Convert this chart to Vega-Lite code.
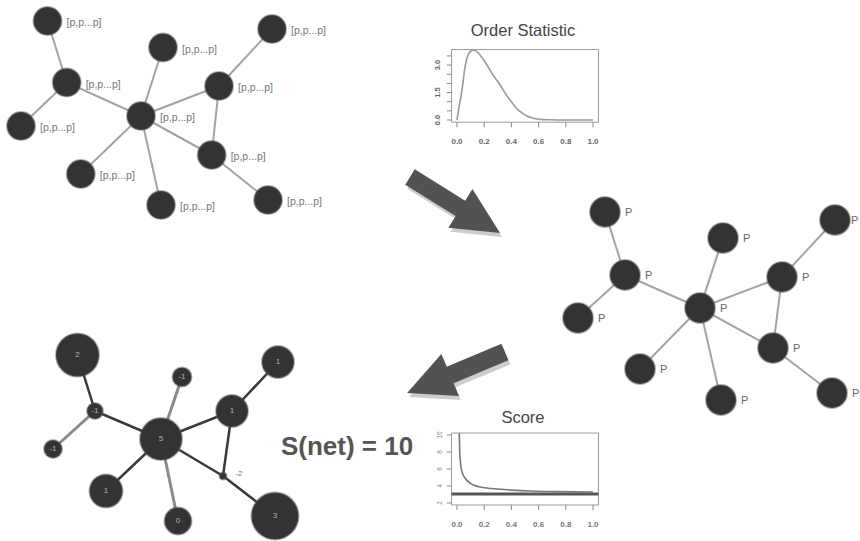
{
  "$schema": "https://vega.github.io/schema/vega-lite/v6.json",
  "width": 860,
  "height": 541,
  "padding": 0,
  "autosize": {"type": "none"},
  "background": "white",
  "config": {"view": {"stroke": null}, "font": "Liberation Sans"},
  "datasets": {
    "nodes": [
      {"id": "tA", "net": "t", "x": 47.5, "y": 21, "label": "[p,p...p]", "w": 31.4},
      {"id": "tB", "net": "t", "x": 66.7, "y": 82.5, "label": "[p,p...p]", "w": 31.4},
      {"id": "tC", "net": "t", "x": 21, "y": 126, "label": "[p,p...p]", "w": 31.4},
      {"id": "tD", "net": "t", "x": 141, "y": 116, "label": "[p,p...p]", "w": 31.4},
      {"id": "tE", "net": "t", "x": 163, "y": 47.5, "label": "[p,p...p]", "w": 31.4},
      {"id": "tF", "net": "t", "x": 219, "y": 86, "label": "[p,p...p]", "w": 31.4},
      {"id": "tG", "net": "t", "x": 272, "y": 29, "label": "[p,p...p]", "w": 31.4},
      {"id": "tH", "net": "t", "x": 211.7, "y": 155, "label": "[p,p...p]", "w": 31.4},
      {"id": "tI", "net": "t", "x": 80.8, "y": 174, "label": "[p,p...p]", "w": 31.4},
      {"id": "tJ", "net": "t", "x": 161, "y": 205, "label": "[p,p...p]", "w": 31.4},
      {"id": "tK", "net": "t", "x": 268, "y": 200, "label": "[p,p...p]", "w": 31.4},
      {"id": "mA", "net": "m", "x": 605, "y": 212, "label": "P", "w": 36},
      {"id": "mB", "net": "m", "x": 625, "y": 275, "label": "P", "w": 36},
      {"id": "mC", "net": "m", "x": 578, "y": 318, "label": "P", "w": 36},
      {"id": "mD", "net": "m", "x": 700, "y": 308, "label": "P", "w": 36},
      {"id": "mE", "net": "m", "x": 723, "y": 238, "label": "P", "w": 36},
      {"id": "mF", "net": "m", "x": 782, "y": 277, "label": "P", "w": 36},
      {"id": "mG", "net": "m", "x": 835, "y": 220, "label": "P", "w": 36},
      {"id": "mH", "net": "m", "x": 773, "y": 348, "label": "P", "w": 36},
      {"id": "mI", "net": "m", "x": 640, "y": 369, "label": "P", "w": 36},
      {"id": "mJ", "net": "m", "x": 721, "y": 400, "label": "P", "w": 36},
      {"id": "mK", "net": "m", "x": 832, "y": 393, "label": "P", "w": 36},
      {"id": "bA", "net": "b", "x": 77.5, "y": 355, "label": "2", "w": 74},
      {"id": "bB", "net": "b", "x": 95, "y": 411, "label": "-1", "w": 10.2},
      {"id": "bC", "net": "b", "x": 53, "y": 449, "label": "-1", "w": 13},
      {"id": "bD", "net": "b", "x": 161, "y": 439, "label": "5", "w": 70.6},
      {"id": "bE", "net": "b", "x": 182, "y": 377, "label": "-1", "w": 14.4},
      {"id": "bF", "net": "b", "x": 232, "y": 411, "label": "1", "w": 41},
      {"id": "bG", "net": "b", "x": 278, "y": 362, "label": "1", "w": 41},
      {"id": "bH", "net": "b", "x": 223, "y": 476, "label": "-2", "w": 2},
      {"id": "bI", "net": "b", "x": 106, "y": 491, "label": "1", "w": 43.6},
      {"id": "bJ", "net": "b", "x": 178, "y": 521, "label": "0", "w": 29},
      {"id": "bK", "net": "b", "x": 275, "y": 516, "label": "3", "w": 88.4}
    ],
    "edges": [
      {"s": "tA", "t": "tB", "kind": "grey"}, {"s": "tB", "t": "tC", "kind": "grey"},
      {"s": "tB", "t": "tD", "kind": "grey"}, {"s": "tD", "t": "tE", "kind": "grey"},
      {"s": "tD", "t": "tF", "kind": "grey"}, {"s": "tF", "t": "tG", "kind": "grey"},
      {"s": "tF", "t": "tH", "kind": "grey"}, {"s": "tD", "t": "tH", "kind": "grey"},
      {"s": "tH", "t": "tK", "kind": "grey"}, {"s": "tD", "t": "tI", "kind": "grey"},
      {"s": "tD", "t": "tJ", "kind": "grey"},
      {"s": "mA", "t": "mB", "kind": "grey"}, {"s": "mB", "t": "mC", "kind": "grey"},
      {"s": "mB", "t": "mD", "kind": "grey"}, {"s": "mD", "t": "mE", "kind": "grey"},
      {"s": "mD", "t": "mF", "kind": "grey"}, {"s": "mF", "t": "mG", "kind": "grey"},
      {"s": "mF", "t": "mH", "kind": "grey"}, {"s": "mD", "t": "mH", "kind": "grey"},
      {"s": "mH", "t": "mK", "kind": "grey"}, {"s": "mD", "t": "mI", "kind": "grey"},
      {"s": "mD", "t": "mJ", "kind": "grey"},
      {"s": "bA", "t": "bB", "kind": "thick"}, {"s": "bB", "t": "bC", "kind": "thin"},
      {"s": "bB", "t": "bD", "kind": "thick"}, {"s": "bD", "t": "bE", "kind": "thin"},
      {"s": "bD", "t": "bF", "kind": "thick"}, {"s": "bF", "t": "bG", "kind": "thick"},
      {"s": "bF", "t": "bH", "kind": "thick"}, {"s": "bD", "t": "bH", "kind": "thick"},
      {"s": "bH", "t": "bK", "kind": "thick"}, {"s": "bD", "t": "bI", "kind": "thick"},
      {"s": "bD", "t": "bJ", "kind": "thin"}
    ],
    "arrows": [
      {"x": 455, "y": 205, "dir": 31.9},
      {"x": 456, "y": 372.5, "dir": 157.3}
    ],
    "caption": [{"x": 347, "y": 447, "t": "S(net) = 10"}],
    "orderstat": [
      {"x": 0, "y": 0}, {"x": 0.015, "y": 0.7}, {"x": 0.037, "y": 1.64}, {"x": 0.059, "y": 2.9},
      {"x": 0.081, "y": 3.55}, {"x": 0.1, "y": 3.75}, {"x": 0.118, "y": 3.82}, {"x": 0.135, "y": 3.79},
      {"x": 0.154, "y": 3.68}, {"x": 0.18, "y": 3.45}, {"x": 0.206, "y": 3.17}, {"x": 0.235, "y": 2.83},
      {"x": 0.265, "y": 2.46}, {"x": 0.3, "y": 2.1}, {"x": 0.331, "y": 1.75}, {"x": 0.36, "y": 1.4},
      {"x": 0.39, "y": 1.09}, {"x": 0.42, "y": 0.8}, {"x": 0.449, "y": 0.55}, {"x": 0.48, "y": 0.38},
      {"x": 0.515, "y": 0.22}, {"x": 0.55, "y": 0.12}, {"x": 0.588, "y": 0.05}, {"x": 0.63, "y": 0.02},
      {"x": 0.68, "y": 0.01}, {"x": 0.8, "y": 0.0}, {"x": 1.0, "y": 0}
    ],
    "score": [
      {"x": 0.017, "y": 10.2}, {"x": 0.02, "y": 8.0}, {"x": 0.025, "y": 6.9}, {"x": 0.03, "y": 6.2},
      {"x": 0.037, "y": 5.65}, {"x": 0.059, "y": 4.94}, {"x": 0.096, "y": 4.35}, {"x": 0.13, "y": 4.05},
      {"x": 0.169, "y": 3.88}, {"x": 0.23, "y": 3.74}, {"x": 0.294, "y": 3.65}, {"x": 0.4, "y": 3.52},
      {"x": 0.537, "y": 3.41}, {"x": 0.75, "y": 3.34}, {"x": 1.0, "y": 3.29}
    ],
    "xticks": [
      {"v": 0, "t": "0.0"}, {"v": 0.2, "t": "0.2"}, {"v": 0.4, "t": "0.4"},
      {"v": 0.6, "t": "0.6"}, {"v": 0.8, "t": "0.8"}, {"v": 1.0, "t": "1.0"}
    ],
    "oyticks": [
      {"v": 0, "t": "0.0"}, {"v": 0.5, "t": ""}, {"v": 1.0, "t": ""}, {"v": 1.5, "t": "1.5"},
      {"v": 2.0, "t": ""}, {"v": 2.5, "t": ""}, {"v": 3.0, "t": "3.0"}, {"v": 3.5, "t": ""}
    ],
    "syticks": [
      {"v": 2, "t": "2"}, {"v": 4, "t": "4"}, {"v": 6, "t": "6"}, {"v": 8, "t": "8"}, {"v": 10, "t": "10"}
    ]
  },
  "layer": [
    {
      "layer": [
        {
          "data": {"name": "edges"},
          "transform": [
            {"lookup": "s", "from": {"data": {"name": "nodes"}, "key": "id", "fields": ["x", "y"]}, "as": ["sx", "sy"]},
            {"lookup": "t", "from": {"data": {"name": "nodes"}, "key": "id", "fields": ["x", "y"]}, "as": ["tx", "ty"]}
          ],
          "mark": {"type": "rule", "strokeCap": "round"},
          "encoding": {
            "x": {"field": "sx", "type": "quantitative", "scale": {"domain": [0, 860], "nice": false, "zero": false}, "axis": null},
            "y": {"field": "sy", "type": "quantitative", "scale": {"domain": [0, 541], "nice": false, "zero": false, "reverse": true}, "axis": null},
            "x2": {"field": "tx"},
            "y2": {"field": "ty"},
            "color": {"field": "kind", "type": "nominal", "scale": {"domain": ["grey", "thick", "thin"], "range": ["#a3a3a3", "#3a3a3a", "#8a8a8a"]}, "legend": null},
            "strokeWidth": {"field": "kind", "type": "nominal", "scale": {"domain": ["grey", "thick", "thin"], "range": [2, 3, 1.6]}, "legend": null}
          }
        },
        {
          "data": {"name": "nodes"},
          "mark": {"type": "point", "shape": "circle", "filled": true, "fill": "#333333", "fillOpacity": 1, "stroke": "#555555", "strokeWidth": 2, "strokeOpacity": 0.45},
          "encoding": {
            "x": {"field": "x", "type": "quantitative", "scale": {"domain": [0, 860], "nice": false, "zero": false}, "axis": null},
            "y": {"field": "y", "type": "quantitative", "scale": {"domain": [0, 541], "nice": false, "zero": false, "reverse": true}, "axis": null},
            "size": {"field": "w", "type": "quantitative", "scale": {"domain": [0, 100], "range": [0, 2500], "zero": true}, "legend": null}
          }
        },
        {
          "data": {"name": "nodes"},
          "transform": [{"filter": "datum.net === 't'"}],
          "mark": {"type": "text", "align": "left", "baseline": "middle", "dx": 19, "dy": 2, "fontSize": 10.5, "color": "#777777"},
          "encoding": {
            "x": {"field": "x", "type": "quantitative", "scale": {"domain": [0, 860], "nice": false, "zero": false}, "axis": null},
            "y": {"field": "y", "type": "quantitative", "scale": {"domain": [0, 541], "nice": false, "zero": false, "reverse": true}, "axis": null},
            "text": {"field": "label"}
          }
        },
        {
          "data": {"name": "nodes"},
          "transform": [{"filter": "datum.net === 'm' && datum.id !== 'mG'"}],
          "mark": {"type": "text", "align": "left", "baseline": "middle", "dx": 20, "dy": 1, "fontSize": 11, "color": "#666666"},
          "encoding": {
            "x": {"field": "x", "type": "quantitative", "scale": {"domain": [0, 860], "nice": false, "zero": false}, "axis": null},
            "y": {"field": "y", "type": "quantitative", "scale": {"domain": [0, 541], "nice": false, "zero": false, "reverse": true}, "axis": null},
            "text": {"field": "label"}
          }
        },
        {
          "data": {"name": "nodes"},
          "transform": [{"filter": "datum.id === 'mG'"}],
          "mark": {"type": "text", "align": "left", "baseline": "middle", "dx": 16, "dy": 1, "fontSize": 11, "color": "#666666"},
          "encoding": {
            "x": {"field": "x", "type": "quantitative", "scale": {"domain": [0, 860], "nice": false, "zero": false}, "axis": null},
            "y": {"field": "y", "type": "quantitative", "scale": {"domain": [0, 541], "nice": false, "zero": false, "reverse": true}, "axis": null},
            "text": {"field": "label"}
          }
        },
        {
          "data": {"name": "nodes"},
          "transform": [{"filter": "datum.net === 'b' && datum.id !== 'bH'"}],
          "mark": {"type": "text", "align": "center", "baseline": "middle", "fontSize": 8, "color": "#b5b5b5"},
          "encoding": {
            "x": {"field": "x", "type": "quantitative", "scale": {"domain": [0, 860], "nice": false, "zero": false}, "axis": null},
            "y": {"field": "y", "type": "quantitative", "scale": {"domain": [0, 541], "nice": false, "zero": false, "reverse": true}, "axis": null},
            "text": {"field": "label"}
          }
        },
        {
          "data": {"name": "nodes"},
          "transform": [{"filter": "datum.id === 'bH'"}],
          "mark": {"type": "text", "align": "center", "baseline": "middle", "dx": 16, "dy": -2, "fontSize": 8, "color": "#777777"},
          "encoding": {
            "x": {"field": "x", "type": "quantitative", "scale": {"domain": [0, 860], "nice": false, "zero": false}, "axis": null},
            "y": {"field": "y", "type": "quantitative", "scale": {"domain": [0, 541], "nice": false, "zero": false, "reverse": true}, "axis": null},
            "text": {"field": "label"}
          }
        },
        {
          "data": {"name": "arrows"},
          "mark": {"type": "point", "filled": true, "fill": "#9a9a9a", "fillOpacity": 0.5, "strokeWidth": 0, "size": 11236, "xOffset": 2, "yOffset": 4,
            "shape": "M -1 -0.17 L 0.12 -0.17 L 0.12 -0.43 L 1 0 L 0.12 0.43 L 0.12 0.17 L -1 0.17 Z"},
          "encoding": {
            "x": {"field": "x", "type": "quantitative", "scale": {"domain": [0, 860], "nice": false, "zero": false}, "axis": null},
            "y": {"field": "y", "type": "quantitative", "scale": {"domain": [0, 541], "nice": false, "zero": false, "reverse": true}, "axis": null},
            "angle": {"field": "dir", "type": "quantitative", "scale": null}
          }
        },
        {
          "data": {"name": "arrows"},
          "mark": {"type": "point", "filled": true, "fill": "#525252", "fillOpacity": 1, "strokeWidth": 0, "size": 11236,
            "shape": "M -1 -0.17 L 0.12 -0.17 L 0.12 -0.43 L 1 0 L 0.12 0.43 L 0.12 0.17 L -1 0.17 Z"},
          "encoding": {
            "x": {"field": "x", "type": "quantitative", "scale": {"domain": [0, 860], "nice": false, "zero": false}, "axis": null},
            "y": {"field": "y", "type": "quantitative", "scale": {"domain": [0, 541], "nice": false, "zero": false, "reverse": true}, "axis": null},
            "angle": {"field": "dir", "type": "quantitative", "scale": null}
          }
        },
        {
          "data": {"name": "caption"},
          "mark": {"type": "text", "align": "center", "baseline": "middle", "fontSize": 26, "fontWeight": "bold", "color": "#555555"},
          "encoding": {
            "x": {"field": "x", "type": "quantitative", "scale": {"domain": [0, 860], "nice": false, "zero": false}, "axis": null},
            "y": {"field": "y", "type": "quantitative", "scale": {"domain": [0, 541], "nice": false, "zero": false, "reverse": true}, "axis": null},
            "text": {"field": "t"}
          }
        }
      ]
    },
    {
      "layer": [
        {
          "data": {"values": [{}]},
          "mark": {"type": "rect", "fillOpacity": 0, "stroke": "#9a9a9a", "strokeWidth": 1},
          "encoding": {
            "x": {"datum": -0.04, "type": "quantitative", "scale": {"domain": [-3.36029, 2.96324], "nice": false, "zero": false}, "axis": null},
            "x2": {"datum": 1.04},
            "y": {"datum": -0.12, "type": "quantitative", "scale": {"domain": [-23.0055, 6.5574], "nice": false, "zero": false}, "axis": null},
            "y2": {"datum": 3.85}
          }
        },
        {
          "data": {"name": "orderstat"},
          "mark": {"type": "line", "interpolate": "monotone", "color": "#9a9a9a", "strokeWidth": 1.6},
          "encoding": {
            "x": {"field": "x", "type": "quantitative", "scale": {"domain": [-3.36029, 2.96324], "nice": false, "zero": false}, "axis": null},
            "y": {"field": "y", "type": "quantitative", "scale": {"domain": [-23.0055, 6.5574], "nice": false, "zero": false}, "axis": null}
          }
        },
        {
          "data": {"name": "xticks"},
          "mark": {"type": "rule", "color": "#888888", "strokeWidth": 1},
          "encoding": {
            "x": {"field": "v", "type": "quantitative", "scale": {"domain": [-3.36029, 2.96324], "nice": false, "zero": false}, "axis": null},
            "y": {"datum": -0.12, "type": "quantitative", "scale": {"domain": [-23.0055, 6.5574], "nice": false, "zero": false}, "axis": null},
            "y2": {"datum": -0.4}
          }
        },
        {
          "data": {"name": "xticks"},
          "mark": {"type": "text", "align": "center", "baseline": "middle", "fontSize": 8, "fontWeight": "bold", "color": "#666666"},
          "encoding": {
            "x": {"field": "v", "type": "quantitative", "scale": {"domain": [-3.36029, 2.96324], "nice": false, "zero": false}, "axis": null},
            "y": {"datum": -1.2, "type": "quantitative", "scale": {"domain": [-23.0055, 6.5574], "nice": false, "zero": false}, "axis": null},
            "text": {"field": "t"}
          }
        },
        {
          "data": {"name": "oyticks"},
          "mark": {"type": "rule", "color": "#888888", "strokeWidth": 1},
          "encoding": {
            "y": {"field": "v", "type": "quantitative", "scale": {"domain": [-23.0055, 6.5574], "nice": false, "zero": false}, "axis": null},
            "x": {"datum": -0.04, "type": "quantitative", "scale": {"domain": [-3.36029, 2.96324], "nice": false, "zero": false}, "axis": null},
            "x2": {"datum": -0.075}
          }
        },
        {
          "data": {"name": "oyticks"},
          "mark": {"type": "text", "align": "center", "baseline": "middle", "angle": 270, "fontSize": 7.5, "fontWeight": "bold", "color": "#666666"},
          "encoding": {
            "y": {"field": "v", "type": "quantitative", "scale": {"domain": [-23.0055, 6.5574], "nice": false, "zero": false}, "axis": null},
            "x": {"datum": -0.14, "type": "quantitative", "scale": {"domain": [-3.36029, 2.96324], "nice": false, "zero": false}, "axis": null},
            "text": {"field": "t"}
          }
        },
        {
          "data": {"values": [{"t": "Order Statistic"}]},
          "mark": {"type": "text", "align": "center", "baseline": "middle", "fontSize": 16.5, "color": "#444444"},
          "encoding": {
            "x": {"datum": 0.485, "type": "quantitative", "scale": {"domain": [-3.36029, 2.96324], "nice": false, "zero": false}, "axis": null},
            "y": {"datum": 4.86, "type": "quantitative", "scale": {"domain": [-23.0055, 6.5574], "nice": false, "zero": false}, "axis": null},
            "text": {"field": "t"}
          }
        }
      ]
    },
    {
      "layer": [
        {
          "data": {"values": [{}]},
          "mark": {"type": "rect", "fillOpacity": 0, "stroke": "#9a9a9a", "strokeWidth": 1},
          "encoding": {
            "x": {"datum": -0.04, "type": "quantitative", "scale": {"domain": [-3.36029, 2.96324], "nice": false, "zero": false}, "axis": null},
            "x2": {"datum": 1.04},
            "y": {"datum": 1.765, "type": "quantitative", "scale": {"domain": [-2.4706, 61.1765], "nice": false, "zero": false}, "axis": null},
            "y2": {"datum": 10.235}
          }
        },
        {
          "data": {"values": [{}]},
          "mark": {"type": "rule", "color": "#555555", "strokeWidth": 3},
          "encoding": {
            "x": {"datum": -0.04, "type": "quantitative", "scale": {"domain": [-3.36029, 2.96324], "nice": false, "zero": false}, "axis": null},
            "x2": {"datum": 1.04},
            "y": {"datum": 3.06, "type": "quantitative", "scale": {"domain": [-2.4706, 61.1765], "nice": false, "zero": false}, "axis": null}
          }
        },
        {
          "data": {"name": "score"},
          "mark": {"type": "line", "interpolate": "monotone", "color": "#777777", "strokeWidth": 1.6},
          "encoding": {
            "x": {"field": "x", "type": "quantitative", "scale": {"domain": [-3.36029, 2.96324], "nice": false, "zero": false}, "axis": null},
            "y": {"field": "y", "type": "quantitative", "scale": {"domain": [-2.4706, 61.1765], "nice": false, "zero": false}, "axis": null}
          }
        },
        {
          "data": {"name": "xticks"},
          "mark": {"type": "rule", "color": "#888888", "strokeWidth": 1},
          "encoding": {
            "x": {"field": "v", "type": "quantitative", "scale": {"domain": [-3.36029, 2.96324], "nice": false, "zero": false}, "axis": null},
            "y": {"datum": 1.765, "type": "quantitative", "scale": {"domain": [-2.4706, 61.1765], "nice": false, "zero": false}, "axis": null},
            "y2": {"datum": 1.18}
          }
        },
        {
          "data": {"name": "xticks"},
          "mark": {"type": "text", "align": "center", "baseline": "middle", "fontSize": 8, "fontWeight": "bold", "color": "#777777"},
          "encoding": {
            "x": {"field": "v", "type": "quantitative", "scale": {"domain": [-3.36029, 2.96324], "nice": false, "zero": false}, "axis": null},
            "y": {"datum": -0.59, "type": "quantitative", "scale": {"domain": [-2.4706, 61.1765], "nice": false, "zero": false}, "axis": null},
            "text": {"field": "t"}
          }
        },
        {
          "data": {"name": "syticks"},
          "mark": {"type": "rule", "color": "#888888", "strokeWidth": 1},
          "encoding": {
            "y": {"field": "v", "type": "quantitative", "scale": {"domain": [-2.4706, 61.1765], "nice": false, "zero": false}, "axis": null},
            "x": {"datum": -0.04, "type": "quantitative", "scale": {"domain": [-3.36029, 2.96324], "nice": false, "zero": false}, "axis": null},
            "x2": {"datum": -0.075}
          }
        },
        {
          "data": {"name": "syticks"},
          "mark": {"type": "text", "align": "center", "baseline": "middle", "angle": 270, "fontSize": 6.5, "color": "#888888"},
          "encoding": {
            "y": {"field": "v", "type": "quantitative", "scale": {"domain": [-2.4706, 61.1765], "nice": false, "zero": false}, "axis": null},
            "x": {"datum": -0.125, "type": "quantitative", "scale": {"domain": [-3.36029, 2.96324], "nice": false, "zero": false}, "axis": null},
            "text": {"field": "t"}
          }
        },
        {
          "data": {"values": [{"t": "Score"}]},
          "mark": {"type": "text", "align": "center", "baseline": "middle", "fontSize": 16.5, "color": "#444444"},
          "encoding": {
            "x": {"datum": 0.485, "type": "quantitative", "scale": {"domain": [-3.36029, 2.96324], "nice": false, "zero": false}, "axis": null},
            "y": {"datum": 12.0, "type": "quantitative", "scale": {"domain": [-2.4706, 61.1765], "nice": false, "zero": false}, "axis": null},
            "text": {"field": "t"}
          }
        }
      ]
    }
  ],
  "resolve": {"scale": {"x": "independent", "y": "independent"}}
}
